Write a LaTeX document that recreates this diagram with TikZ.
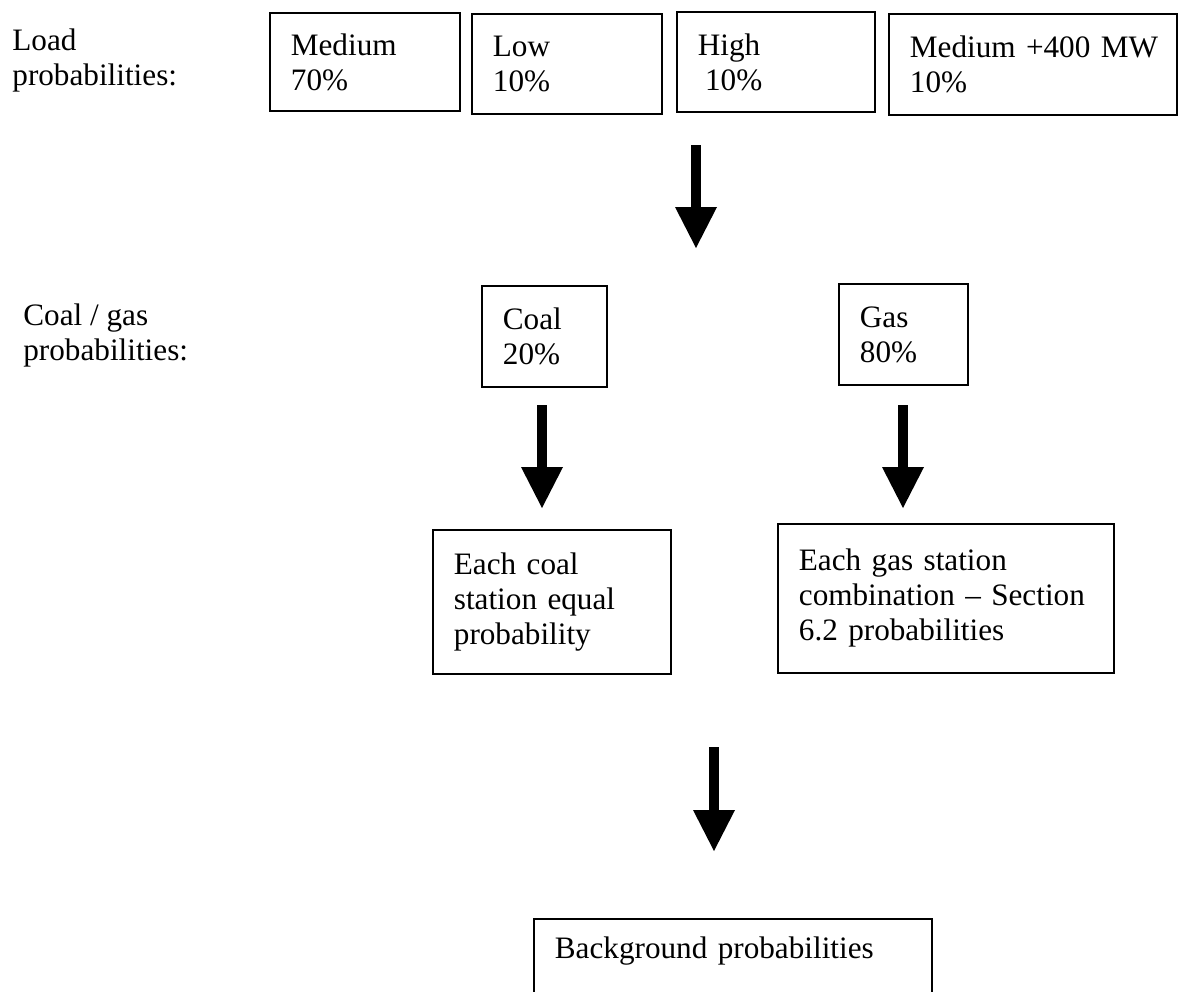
\documentclass[tikz,border=0pt]{standalone}
\usepackage{fontspec}
\setmainfont{Liberation Serif}
\usetikzlibrary{arrows.meta}
\tikzset{probbox/.style={draw, line width=0.9pt, anchor=north west, align=left, inner xsep=10.5pt, inner ysep=0pt}}
\tikzset{blockarrow/.style={line width=5pt, -{Triangle[width=21pt,length=20.5pt,line width=0pt]}}}

\begin{document}
\begin{tikzpicture}[x=0.5pt, y=-0.5pt, every node/.style={font=\fontsize{15.6}{17.5}\selectfont}]
  \useasboundingbox (0,0) rectangle (1178,991);
  \clip (0,0) rectangle (1178,991);
  % row labels
  \node[anchor=north west, align=left, inner sep=0pt] (loadlbl) at (12,28) {Load\\probabilities:};
  \node[anchor=north west, align=left, inner sep=0pt] (coallbl) at (23,303) {Coal / gas\\probabilities:};
  % load cases
  \node[probbox, text width=74pt, minimum height=49pt] (med) at (269,12) {Medium\\70\%};
  \node[probbox, text width=74pt, minimum height=50pt] (low) at (471,13) {Low\\10\%};
  \node[probbox, text width=78pt, minimum height=50pt] (high) at (676,11) {High\\\hspace{3.6pt}10\%};
  \node[probbox, text width=123pt, minimum height=50.5pt] (medplus) at (888,13) {\mbox{Medium +400 MW}\\10\%};
  % fuel
  \node[probbox, text width=41.5pt, minimum height=50.5pt] (coal) at (481,285) {Coal\\20\%};
  \node[probbox, text width=43.5pt, minimum height=50.5pt] (gas) at (838,283) {Gas\\80\%};
  \node[probbox, text width=98pt, minimum height=72pt] (coaleach) at (432,529) {Each coal\\station equal\\probability};
  \node[probbox, text width=147pt, minimum height=74.5pt] (gaseach) at (777,523) {Each gas station\\\mbox{combination -- Section}\\6.2 probabilities};
  \node[probbox, text width=178pt, inner ysep=9pt, text depth=40pt] (backgr) at (533,918) {Background probabilities};
  % block arrows
  \coordinate (a1s) at (696,145);
  \coordinate (a1e) at (696,248);
  \coordinate (a2s) at (542,405);
  \coordinate (a2e) at (542,508);
  \coordinate (a3s) at (903,405);
  \coordinate (a3e) at (903,508);
  \coordinate (a4s) at (714,747);
  \coordinate (a4e) at (714,851);
  \draw[blockarrow] (a1s) -- (a1e);
  \draw[blockarrow] (a2s) -- (a2e);
  \draw[blockarrow] (a3s) -- (a3e);
  \draw[blockarrow] (a4s) -- (a4e);
\end{tikzpicture}
\end{document}
